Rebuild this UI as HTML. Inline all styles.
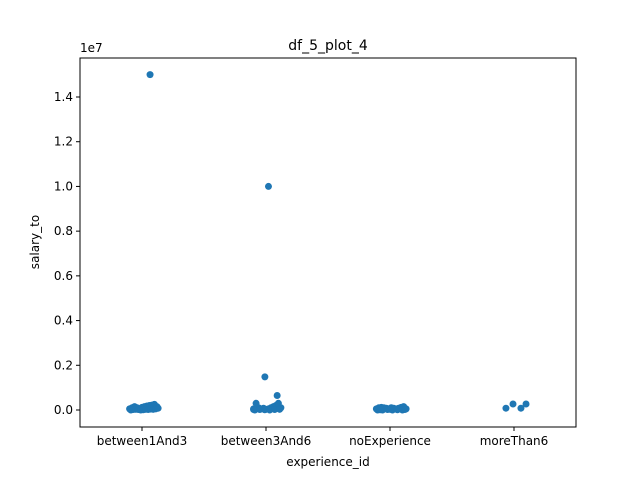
<!DOCTYPE html>
<html><head><meta charset="utf-8"><style>
body{margin:0;background:#fff}
svg text{font-family:"DejaVu Sans","Liberation Sans",sans-serif;fill:#000}
</style></head><body>
<svg id="chart" width="640" height="480" viewBox="0 0 640 480">
<rect width="640" height="480" fill="#fff"/>
<g id="marks"></g>
<g id="axes"></g>
<text x="328" y="50" font-size="14" text-anchor="middle">df_5_plot_4</text>
<text x="328" y="466" font-size="12" text-anchor="middle">experience_id</text>
<text transform="translate(39,242) rotate(-90)" font-size="12" text-anchor="middle">salary_to</text>
<text x="80" y="52" font-size="12">1e7</text>
</svg>
<script>
const categories=["between1And3","between3And6","noExperience","moreThan6"];
const yTicks=[0,0.2,0.4,0.6,0.8,1.0,1.2,1.4];
const yTickLabels=["0.0","0.2","0.4","0.6","0.8","1.0","1.2","1.4"];
const pointCat=[0,0,0,0,0,0,0,0,0,0,0,0,0,0,0,0,0,0,0,0,0,0,0,0,0,
 1,1,1,1,1,1,1,1,1,1,1,1,1,1,1,1,1,1,1,1,1,1,
 2,2,2,2,2,2,2,2,2,2,2,2,2,2,2,2,2,2,2,2,2,2,
 3,3,3,3];
const pointJitter=[0.065,-0.1,-0.08,-0.06,-0.04,-0.02,0.0,0.02,0.04,0.06,0.08,0.1,0.12,-0.09,-0.07,-0.05,-0.03,-0.01,0.01,0.03,0.05,0.07,0.09,0.11,0.13,
 0.02,-0.1,-0.08,-0.06,-0.04,-0.02,0.0,0.02,0.04,0.06,0.08,0.1,0.12,-0.09,-0.05,-0.01,0.03,0.07,0.11,-0.009,0.09,-0.1,
 -0.11,-0.09,-0.07,-0.05,-0.03,-0.01,0.01,0.03,0.05,0.07,0.09,0.11,0.13,-0.1,-0.06,-0.02,0.02,0.06,0.1,0.12,0.0,-0.08,
 -0.065,-0.008,0.056,0.097];
const pointValue=[15.0,0.05,0.1,0.15,0.1,0.05,0.12,0.15,0.18,0.2,0.22,0.25,0.15,0.0,0.02,0.03,0.02,0.0,0.01,0.03,0.02,0.04,0.03,0.05,0.08,
 10.0,0.05,0.3,0.1,0.05,0.08,0.03,0.05,0.1,0.15,0.2,0.3,0.1,0.0,0.02,0.01,0.0,0.02,0.03,1.48,0.65,0.02,
 0.05,0.1,0.12,0.1,0.08,0.05,0.1,0.08,0.05,0.08,0.12,0.15,0.05,0.0,0.0,0.02,0.0,0.01,0.0,0.02,0.03,0.01,
 0.08,0.27,0.08,0.27];
const NS="http://www.w3.org/2000/svg";
const L=80,R=576,T=58,B=427;
const xScale=c=>L+(c+0.5)*(R-L)/categories.length;
function y(v){return 410-(v/1.4)*(410-97);}
const marks=document.getElementById('marks'),axes=document.getElementById('axes');
pointCat.forEach((c,i)=>{
 const e=document.createElementNS(NS,'circle');
 e.setAttribute('cx',xScale(c+pointJitter[i]));
 e.setAttribute('cy',y(pointValue[i]/10));
 e.setAttribute('r',3.5);e.setAttribute('fill','#1f77b4');
 
 
 marks.appendChild(e);
});
const fr=document.createElementNS(NS,'rect');
fr.setAttribute('x',L);fr.setAttribute('y',T);fr.setAttribute('width',R-L);fr.setAttribute('height',B-T);
fr.setAttribute('fill','none');fr.setAttribute('stroke','#000');fr.setAttribute('stroke-width','1');


axes.appendChild(fr);
yTicks.forEach((t,i)=>{
 const yy=y(t);
 const ln=document.createElementNS(NS,'line');
 ln.setAttribute('x1',L-4);ln.setAttribute('x2',L);ln.setAttribute('y1',yy);ln.setAttribute('y2',yy);ln.setAttribute('stroke','#000');
 
 
 axes.appendChild(ln);
 const tx=document.createElementNS(NS,'text');
 tx.setAttribute('x',L-7);tx.setAttribute('y',yy+4);tx.setAttribute('font-size','12');tx.setAttribute('text-anchor','end');
 tx.textContent=yTickLabels[i];
 
 
 axes.appendChild(tx);
});
categories.forEach((c,i)=>{
 const xx=xScale(i);
 const ln=document.createElementNS(NS,'line');
 ln.setAttribute('x1',xx);ln.setAttribute('x2',xx);ln.setAttribute('y1',B);ln.setAttribute('y2',B+4);ln.setAttribute('stroke','#000');
 
 
 axes.appendChild(ln);
 const tx=document.createElementNS(NS,'text');
 tx.setAttribute('x',xx);tx.setAttribute('y',B+18);tx.setAttribute('font-size','12');tx.setAttribute('text-anchor','middle');
 tx.textContent=c;
 
 
 axes.appendChild(tx);
});
</script>
</body></html>
